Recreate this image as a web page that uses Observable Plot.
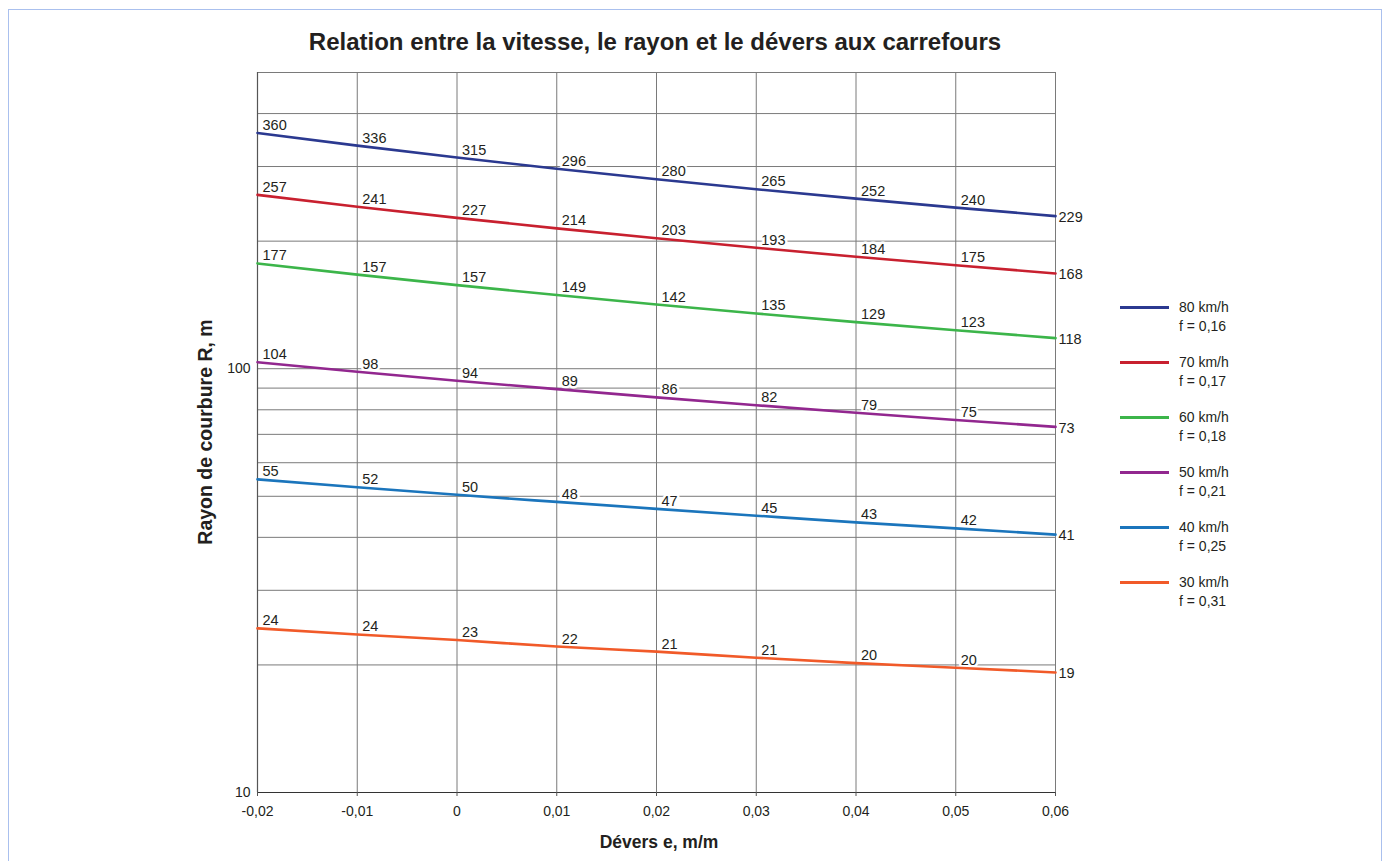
<!DOCTYPE html>
<html>
<head>
<meta charset="utf-8">
<script src="https://cdn.jsdelivr.net/npm/d3@7"></script>
<script src="https://cdn.jsdelivr.net/npm/@observablehq/plot@0.6"></script>
<style>
  html, body { margin: 0; padding: 0; background: #fff; }
  body { width: 1386px; height: 861px; position: relative; overflow: hidden;
         font-family: "Liberation Sans", Arial, Helvetica, sans-serif; color: #231f20; }
  #border { position: absolute; left: 8px; top: 9px; width: 1374px; height: 900px;
            border: 1px solid #aac0ee; box-sizing: border-box; }
  #chart { position: absolute; left: 0; top: 0; }
  #title { position: absolute; left: 0; width: 1310px; top: 28px; text-align: center;
           font-weight: bold; font-size: 24px; }
  #ylabel { position: absolute; left: 205px; top: 432px; transform: translate(-50%, -50%) rotate(-90deg);
            font-weight: bold; font-size: 19.5px; white-space: nowrap; }
  #xlabel { position: absolute; left: 659px; top: 832px; transform: translateX(-50%);
            font-weight: bold; font-size: 17.5px; white-space: nowrap; }
  .leg { position: absolute; left: 1120px; font-size: 14px; line-height: 19px; }
  .leg .sw { position: absolute; left: 0; top: 8px; width: 49px; height: 3px; }
  .leg .tx { position: absolute; left: 59px; top: 0; white-space: nowrap; }
</style>
</head>
<body>
<div id="border"></div>
<div id="chart"></div>
<div id="title">Relation entre la vitesse, le rayon et le dévers aux carrefours</div>
<div id="ylabel">Rayon de courbure R, m</div>
<div id="xlabel">Dévers e, m/m</div>
<div id="legend"></div>
<script>
// ---- data ----
const devers = [-0.02, -0.01, 0, 0.01, 0.02, 0.03, 0.04, 0.05, 0.06];
const speeds = ["80 km/h", "70 km/h", "60 km/h", "50 km/h", "40 km/h", "30 km/h"];
const frictions = ["0,16", "0,17", "0,18", "0,21", "0,25", "0,31"];
const colors = ["#2b3990", "#c8202f", "#3cb54a", "#92278f", "#1b75bc", "#f15a29"];

// line positions (R, m)
const r80 = [360.0, 336.0, 315.0, 296.4, 280.0, 265.2, 252.0, 240.0, 229.1];
const r70 = [257.2, 241.1, 227.0, 214.4, 203.1, 192.9, 183.7, 175.4, 167.8];
const r60 = [177.2, 166.7, 157.5, 149.2, 141.7, 135.0, 128.8, 123.2, 118.1];
const r50 = [103.6, 98.4, 93.7, 89.5, 85.6, 82.0, 78.7, 75.7, 72.9];
const r40 = [54.8, 52.5, 50.4, 48.5, 46.7, 45.0, 43.4, 42.0, 40.6];
const r30 = [24.4, 23.6, 22.9, 22.1, 21.5, 20.8, 20.2, 19.7, 19.2];

// printed labels (as they appear on the chart)
const l80 = ["360", "336", "315", "296", "280", "265", "252", "240", "229"];
const l70 = ["257", "241", "227", "214", "203", "193", "184", "175", "168"];
const l60 = ["177", "157", "157", "149", "142", "135", "129", "123", "118"];
const l50 = ["104", "98", "94", "89", "86", "82", "79", "75", "73"];
const l40 = ["55", "52", "50", "48", "47", "45", "43", "42", "41"];
const l30 = ["24", "24", "23", "22", "21", "21", "20", "20", "19"];

const gridY = [20, 30, 40, 50, 60, 70, 80, 90, 100, 200, 300, 400, 500];
const yTicks = [10, 100];

// ---- build table ----
const seriesValues = [r80, r70, r60, r50, r40, r30];
const seriesLabels = [l80, l70, l60, l50, l40, l30];
const rows = [];
seriesValues.forEach((vals, s) => {
  vals.forEach((v, i) => rows.push({speed: speeds[s], e: devers[i], r: v, label: seriesLabels[s][i], last: i === devers.length - 1}));
});

const fmtX = v => v === 0 ? "0" : v.toFixed(2).replace(".", ",");

const chart = Plot.plot({
  width: 1386,
  height: 861,
  marginLeft: 257,
  marginRight: 331,
  marginTop: 72,
  marginBottom: 69,
  style: {fontFamily: '"Liberation Sans", Arial, Helvetica, sans-serif', fontSize: "14px", color: "#231f20", background: "transparent"},
  x: {domain: [-0.02, 0.06], label: null},
  y: {type: "log", domain: [10, 500], label: null},
  color: {domain: speeds, range: colors},
  marks: [
    Plot.ruleY(gridY, {stroke: "#7a7a7a", strokeWidth: 1, strokeOpacity: 1}),
    Plot.ruleX(devers, {stroke: "#7a7a7a", strokeWidth: 1, strokeOpacity: 1}),
    Plot.ruleY([10], {stroke: "#333", strokeWidth: 1.2}),
    Plot.ruleX([-0.02], {stroke: "#555", strokeWidth: 1.2}),
    Plot.axisX(devers, {tickFormat: fmtX, tickSize: 4, tickPadding: 10, fontSize: 14, stroke: "#555", label: null}),
    Plot.axisY(yTicks, {tickFormat: d => String(d), tickSize: 0, tickPadding: 7, fontSize: 14, label: null}),
    Plot.text(rows.filter(d => !d.last), {
      x: "e", y: "r", text: "label", textAnchor: "start", lineAnchor: "bottom",
      dx: 5, dy: -3, fontSize: 14.5, fill: "#231f20", stroke: "white", strokeWidth: 5
    }),
    Plot.text(rows.filter(d => d.last), {
      x: "e", y: "r", text: "label", textAnchor: "start", lineAnchor: "middle",
      dx: 3, dy: 1, fontSize: 14.5, fill: "#231f20", stroke: "white", strokeWidth: 5
    }),
    Plot.line(rows, {x: "e", y: "r", z: "speed", stroke: "speed", strokeWidth: 2.6, curve: "monotone-x"})
  ]
});
document.getElementById("chart").appendChild(chart);

// ---- legend ----
const legend = document.getElementById("legend");
speeds.forEach((s, i) => {
  const item = document.createElement("div");
  item.className = "leg";
  item.style.top = (298 + i * 55) + "px";
  const sw = document.createElement("div");
  sw.className = "sw";
  sw.style.background = colors[i];
  const tx = document.createElement("div");
  tx.className = "tx";
  tx.innerHTML = s + "<br>f = " + frictions[i];
  item.appendChild(sw);
  item.appendChild(tx);
  legend.appendChild(item);
});
</script>
</body>
</html>
